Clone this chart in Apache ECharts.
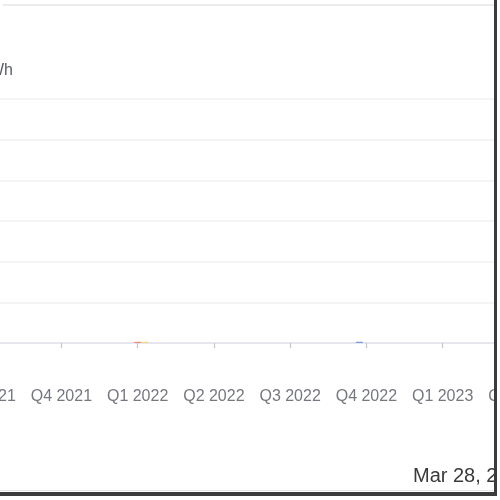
<!DOCTYPE html>
<html>
<head>
<meta charset="utf-8">
<script src="https://cdn.jsdelivr.net/npm/echarts@6/dist/echarts.min.js"></script>
<style>
  html, body { margin: 0; padding: 0; background: #fff; }
  #frame {
    position: absolute; left: 0; top: 0;
    width: 497px; height: 496px;
    overflow: hidden;
    box-sizing: border-box;
    border-right: 3px solid #3c3c3c;
    border-bottom: 4px solid #3c3c3c;
  }
  #topline { position: absolute; left: 3px; top: 4px; width: 492px; height: 2px; background: #ececec; }
  #bottomline { position: absolute; left: 0; top: 490px; width: 494px; height: 1px; background: #e6e6e6; }
  #chart { position: absolute; left: -120px; top: 0; width: 615px; height: 500px; }
</style>
</head>
<body>
<div id="frame">
  <div id="chart"></div>
  <div id="topline"></div>
  <div id="bottomline"></div>
</div>
<script>
const categories = ['Q3 2021', 'Q4 2021', 'Q1 2022', 'Q2 2022', 'Q3 2022', 'Q4 2022', 'Q1 2023', 'Q2 2023'];
const consumption = [0, 0, 0, 0, 0, 0.03, 0, 0];
const gridImport  = [0, 0, 0.03, 0, 0, 0, 0, 0];
const solar       = [0, 0, 0.03, 0, 0, 0, 0, 0];
const unitName = 'kWh';
const dateText = 'Mar 28, 2023';

const chart = echarts.init(document.getElementById('chart'));

chart.setOption({
    animation: false,
    backgroundColor: 'transparent',
    textStyle: { fontFamily: 'Liberation Sans, Arial, sans-serif' },
    grid: { left: 67, top: 99, width: 610, height: 244, containLabel: false, outerBoundsMode: 'none' },
    xAxis: {
        type: 'category',
        data: categories,
        axisLine: { show: true, lineStyle: { color: '#dfe2ea', width: 1.5 } },
        axisTick: { show: true, alignWithLabel: true, interval: 0, length: 5, lineStyle: { color: '#c4c7cf', width: 1.2 } },
        axisLabel: { interval: 0, hideOverlap: false, margin: 46, fontSize: 16, color: '#76787f' }
    },
    yAxis: {
        type: 'value',
        min: 0,
        max: 6,
        interval: 1,
        offset: -50,
        name: unitName,
        nameGap: 20,
        nameTextStyle: { fontSize: 16, color: '#5b5d66' },
        axisLabel: { fontSize: 16, color: '#76787f' },
        splitLine: { lineStyle: { color: '#f0f0f2', width: 1.5 } }
    },
    series: [
        { name: 'Consumption', type: 'bar', data: consumption, barWidth: 7, barGap: '0%', itemStyle: { color: '#7d95e0' } },
        { name: 'Grid', type: 'bar', data: gridImport, barWidth: 7, itemStyle: { color: '#f08a8a' } },
        { name: 'Solar', type: 'bar', data: solar, barWidth: 7, itemStyle: { color: '#f7d77a' } }
    ],
    graphic: [
        {
            type: 'text',
            left: 533,
            top: 466,
            style: { text: dateText, fontSize: 20, fill: '#3a3a3a', fontFamily: 'Liberation Sans, Arial, sans-serif' }
        }
    ]
});
</script>
</body>
</html>
